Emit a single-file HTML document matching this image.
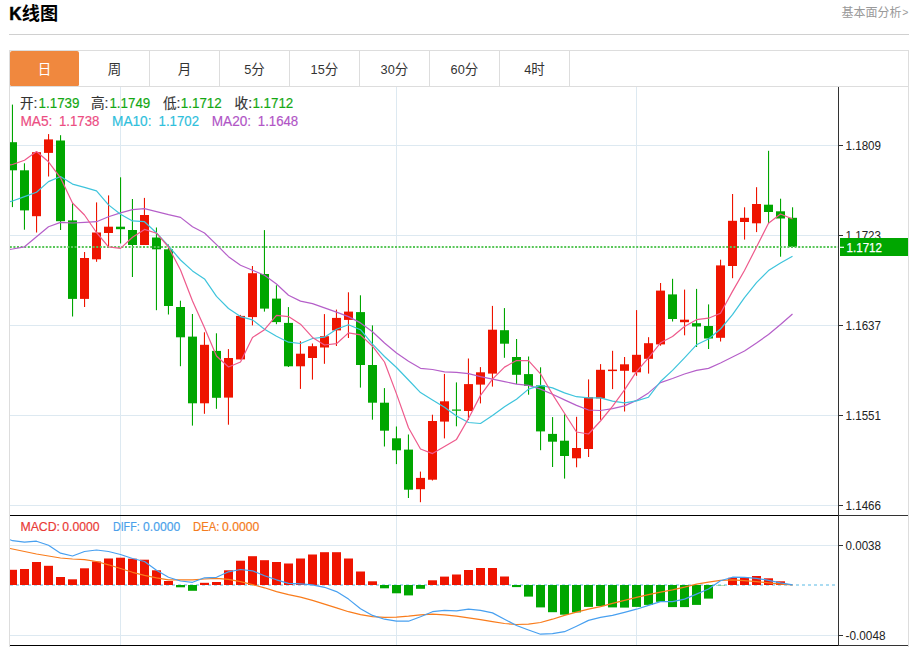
<!DOCTYPE html><html><head><meta charset="utf-8"><title>K</title><style>html,body{margin:0;padding:0;background:#fff;overflow:hidden}body{width:917px;height:647px;font-family:"Liberation Sans",sans-serif}</style></head><body><svg width="917" height="647" viewBox="0 0 917 647" style="display:block;font-family:'Liberation Sans','Noto Sans CJK SC',sans-serif">
<defs><clipPath id="cp"><rect x="10" y="87" width="828" height="558"/></clipPath></defs>
<rect width="917" height="647" fill="#fff"/>
<text transform="translate(9.2,19.7) scale(0.9,1)" font-size="19" font-weight="bold" fill="#000" stroke="#000" stroke-width="0.5">K</text>
<text x="21.8" y="20.4" font-size="18.2" font-weight="bold" fill="#000" font-family="'Liberation Sans','Noto Sans CJK SC',sans-serif">线图</text>
<text x="841.5" y="17.3" font-size="12" fill="#999" font-family="'Liberation Sans','Noto Sans CJK SC',sans-serif">基本面分析</text>
<text x="902.2" y="16.3" font-size="10.5" fill="#999">&gt;</text>
<rect x="9" y="34" width="900" height="1" fill="#d0d0d0"/>
<rect x="9.5" y="50.5" width="899" height="600" fill="none" stroke="#ddd"/>
<rect x="10" y="86" width="898" height="1" fill="#ddd"/>
<rect x="149" y="51" width="1" height="35" fill="#ddd"/>
<rect x="219" y="51" width="1" height="35" fill="#ddd"/>
<rect x="289" y="51" width="1" height="35" fill="#ddd"/>
<rect x="359" y="51" width="1" height="35" fill="#ddd"/>
<rect x="429" y="51" width="1" height="35" fill="#ddd"/>
<rect x="499" y="51" width="1" height="35" fill="#ddd"/>
<rect x="569" y="51" width="1" height="35" fill="#ddd"/>
<path d="M12,51 H77 Q79,51 79,53 V84.5 Q79,86 77.5,86 H11.5 Q10,86 10,84.5 V53 Q10,51 12,51 Z" fill="#f0883e"/>
<text x="37.75" y="74.4" font-size="13.5" fill="#fff" font-family="'Liberation Sans','Noto Sans CJK SC',sans-serif">日</text>
<text x="107.75" y="74.4" font-size="13.5" fill="#333" font-family="'Liberation Sans','Noto Sans CJK SC',sans-serif">周</text>
<text x="177.75" y="74.4" font-size="13.5" fill="#333" font-family="'Liberation Sans','Noto Sans CJK SC',sans-serif">月</text>
<text x="244.2" y="74.2" font-size="13.5" fill="#333" textLength="7.1" lengthAdjust="spacingAndGlyphs">5</text>
<text x="251.3" y="74.4" font-size="13.5" fill="#333" font-family="'Liberation Sans','Noto Sans CJK SC',sans-serif">分</text>
<text x="310.6" y="74.2" font-size="13.5" fill="#333" textLength="14.2" lengthAdjust="spacingAndGlyphs">15</text>
<text x="324.85" y="74.4" font-size="13.5" fill="#333" font-family="'Liberation Sans','Noto Sans CJK SC',sans-serif">分</text>
<text x="380.6" y="74.2" font-size="13.5" fill="#333" textLength="14.2" lengthAdjust="spacingAndGlyphs">30</text>
<text x="394.85" y="74.4" font-size="13.5" fill="#333" font-family="'Liberation Sans','Noto Sans CJK SC',sans-serif">分</text>
<text x="450.6" y="74.2" font-size="13.5" fill="#333" textLength="14.2" lengthAdjust="spacingAndGlyphs">60</text>
<text x="464.85" y="74.4" font-size="13.5" fill="#333" font-family="'Liberation Sans','Noto Sans CJK SC',sans-serif">分</text>
<text x="524.2" y="74.2" font-size="13.5" fill="#333" textLength="7.1" lengthAdjust="spacingAndGlyphs">4</text>
<text x="531.3" y="74.4" font-size="13.5" fill="#333" font-family="'Liberation Sans','Noto Sans CJK SC',sans-serif">时</text>
<rect x="10" y="145" width="828" height="1" fill="#dde9f1"/>
<rect x="10" y="235" width="828" height="1" fill="#dde9f1"/>
<rect x="10" y="325" width="828" height="1" fill="#dde9f1"/>
<rect x="10" y="415" width="828" height="1" fill="#dde9f1"/>
<rect x="10" y="505" width="828" height="1" fill="#dde9f1"/>
<rect x="10" y="545" width="828" height="1" fill="#dde9f1"/>
<rect x="10" y="635" width="828" height="1" fill="#dde9f1"/>
<rect x="120" y="87" width="1" height="558" fill="#dde9f1"/>
<rect x="396" y="87" width="1" height="558" fill="#dde9f1"/>
<rect x="636" y="87" width="1" height="558" fill="#dde9f1"/>
<line x1="10" y1="585" x2="836" y2="585" stroke="#abdcf2" stroke-width="2" stroke-dasharray="3,3"/>
<g clip-path="url(#cp)">
<rect x="8" y="569.8" width="9" height="15.2" fill="#ee1400"/>
<rect x="20" y="569" width="9" height="16" fill="#ee1400"/>
<rect x="32" y="562" width="9" height="23" fill="#ee1400"/>
<rect x="44" y="565.8" width="9" height="19.2" fill="#ee1400"/>
<rect x="56" y="577" width="9" height="8" fill="#ee1400"/>
<rect x="68" y="579.3" width="9" height="5.7" fill="#ee1400"/>
<rect x="80" y="568.3" width="9" height="16.7" fill="#ee1400"/>
<rect x="92" y="561.5" width="9" height="23.5" fill="#ee1400"/>
<rect x="104" y="558.5" width="9" height="26.5" fill="#ee1400"/>
<rect x="116" y="557.7" width="9" height="27.3" fill="#ee1400"/>
<rect x="128" y="558.7" width="9" height="26.3" fill="#ee1400"/>
<rect x="140" y="559.7" width="9" height="25.3" fill="#ee1400"/>
<rect x="152" y="570.3" width="9" height="14.7" fill="#ee1400"/>
<rect x="164" y="581" width="9" height="4" fill="#ee1400"/>
<rect x="176" y="585" width="9" height="2.3" fill="#00a600"/>
<rect x="188" y="585" width="9" height="5.8" fill="#00a600"/>
<rect x="200" y="582.8" width="9" height="2.2" fill="#ee1400"/>
<rect x="212" y="582" width="9" height="3" fill="#ee1400"/>
<rect x="224" y="570.3" width="9" height="14.7" fill="#ee1400"/>
<rect x="236" y="560.7" width="9" height="24.3" fill="#ee1400"/>
<rect x="248" y="556.2" width="9" height="28.8" fill="#ee1400"/>
<rect x="260" y="560.2" width="9" height="24.8" fill="#ee1400"/>
<rect x="272" y="562" width="9" height="23" fill="#ee1400"/>
<rect x="284" y="563.5" width="9" height="21.5" fill="#ee1400"/>
<rect x="296" y="558.5" width="9" height="26.5" fill="#ee1400"/>
<rect x="308" y="554.5" width="9" height="30.5" fill="#ee1400"/>
<rect x="320" y="552.2" width="9" height="32.8" fill="#ee1400"/>
<rect x="332" y="552.2" width="9" height="32.8" fill="#ee1400"/>
<rect x="344" y="558.5" width="9" height="26.5" fill="#ee1400"/>
<rect x="356" y="571.5" width="9" height="13.5" fill="#ee1400"/>
<rect x="368" y="581.3" width="9" height="3.7" fill="#ee1400"/>
<rect x="380" y="585" width="9" height="3.3" fill="#00a600"/>
<rect x="392" y="585" width="9" height="8.3" fill="#00a600"/>
<rect x="404" y="585" width="9" height="10.4" fill="#00a600"/>
<rect x="416" y="585" width="9" height="3.8" fill="#00a600"/>
<rect x="428" y="580.3" width="9" height="4.7" fill="#ee1400"/>
<rect x="440" y="576.6" width="9" height="8.4" fill="#ee1400"/>
<rect x="452" y="574.5" width="9" height="10.5" fill="#ee1400"/>
<rect x="464" y="570" width="9" height="15" fill="#ee1400"/>
<rect x="476" y="568" width="9" height="17" fill="#ee1400"/>
<rect x="488" y="568" width="9" height="17" fill="#ee1400"/>
<rect x="500" y="576.5" width="9" height="8.5" fill="#ee1400"/>
<rect x="512" y="585" width="9" height="2.1" fill="#00a600"/>
<rect x="524" y="585" width="9" height="11.6" fill="#00a600"/>
<rect x="536" y="585" width="9" height="22.4" fill="#00a600"/>
<rect x="548" y="585" width="9" height="27.2" fill="#00a600"/>
<rect x="560" y="585" width="9" height="29.7" fill="#00a600"/>
<rect x="572" y="585" width="9" height="27.4" fill="#00a600"/>
<rect x="584" y="585" width="9" height="21.9" fill="#00a600"/>
<rect x="596" y="585" width="9" height="21.1" fill="#00a600"/>
<rect x="608" y="585" width="9" height="22.4" fill="#00a600"/>
<rect x="620" y="585" width="9" height="22.6" fill="#00a600"/>
<rect x="632" y="585" width="9" height="21.9" fill="#00a600"/>
<rect x="644" y="585" width="9" height="19.9" fill="#00a600"/>
<rect x="656" y="585" width="9" height="16.8" fill="#00a600"/>
<rect x="668" y="585" width="9" height="22.1" fill="#00a600"/>
<rect x="680" y="585" width="9" height="22.1" fill="#00a600"/>
<rect x="692" y="585" width="9" height="19.9" fill="#00a600"/>
<rect x="704" y="585" width="9" height="13.6" fill="#00a600"/>
<rect x="716" y="585" width="9" height="0.3" fill="#00a600"/>
<rect x="728" y="577.8" width="9" height="7.2" fill="#ee1400"/>
<rect x="740" y="577.3" width="9" height="7.7" fill="#ee1400"/>
<rect x="752" y="576" width="9" height="9" fill="#ee1400"/>
<rect x="764" y="578.3" width="9" height="6.7" fill="#ee1400"/>
<rect x="776" y="581.3" width="9" height="3.7" fill="#ee1400"/>
<rect x="788" y="585" width="9" height="0" fill="#00a600"/>
<rect x="11.9" y="104.6" width="1.1" height="102.5" fill="#00a600"/>
<rect x="8" y="142.2" width="9" height="28.1" fill="#00a600"/>
<rect x="23.9" y="163.3" width="1.1" height="66.4" fill="#00a600"/>
<rect x="20" y="170.3" width="9" height="40.1" fill="#00a600"/>
<rect x="36" y="151.5" width="1.1" height="81" fill="#ee1400"/>
<rect x="32" y="152.2" width="9" height="64" fill="#ee1400"/>
<rect x="48" y="134.1" width="1.1" height="42.4" fill="#ee1400"/>
<rect x="44" y="139.4" width="9" height="13.5" fill="#ee1400"/>
<rect x="60" y="135.2" width="1.1" height="94.8" fill="#00a600"/>
<rect x="56" y="140.5" width="9" height="80.7" fill="#00a600"/>
<rect x="72" y="202.9" width="1.1" height="113.6" fill="#00a600"/>
<rect x="68" y="220.4" width="9" height="78.5" fill="#00a600"/>
<rect x="84" y="252" width="1.1" height="55" fill="#ee1400"/>
<rect x="80" y="258" width="9" height="40.9" fill="#ee1400"/>
<rect x="96" y="202.4" width="1.1" height="59.4" fill="#ee1400"/>
<rect x="92" y="232.5" width="9" height="26.8" fill="#ee1400"/>
<rect x="108" y="195.4" width="1.1" height="50.9" fill="#ee1400"/>
<rect x="104" y="226.7" width="9" height="6.3" fill="#ee1400"/>
<rect x="120" y="177.3" width="1.1" height="66.2" fill="#00a600"/>
<rect x="116" y="226.7" width="9" height="2.5" fill="#00a600"/>
<rect x="131.9" y="199" width="1.1" height="78" fill="#00a600"/>
<rect x="128" y="230" width="9" height="15" fill="#00a600"/>
<rect x="143.9" y="197.9" width="1.1" height="47.1" fill="#ee1400"/>
<rect x="140" y="215" width="9" height="30" fill="#ee1400"/>
<rect x="155.9" y="227.5" width="1.1" height="82.7" fill="#00a600"/>
<rect x="152" y="237.5" width="9" height="11.8" fill="#00a600"/>
<rect x="167.9" y="244.5" width="1.1" height="70" fill="#00a600"/>
<rect x="164" y="249.3" width="9" height="56.7" fill="#00a600"/>
<rect x="179.9" y="300.7" width="1.1" height="65.5" fill="#00a600"/>
<rect x="176" y="307" width="9" height="30.3" fill="#00a600"/>
<rect x="191.9" y="314" width="1.1" height="111.6" fill="#00a600"/>
<rect x="188" y="336.6" width="9" height="66.7" fill="#00a600"/>
<rect x="203.9" y="332.3" width="1.1" height="81.5" fill="#ee1400"/>
<rect x="200" y="344.8" width="9" height="58.5" fill="#ee1400"/>
<rect x="215.9" y="333.3" width="1.1" height="75.5" fill="#00a600"/>
<rect x="212" y="350.9" width="9" height="46.9" fill="#00a600"/>
<rect x="227.9" y="349.1" width="1.1" height="75.6" fill="#ee1400"/>
<rect x="224" y="358" width="9" height="39.6" fill="#ee1400"/>
<rect x="239.9" y="314.9" width="1.1" height="44.5" fill="#ee1400"/>
<rect x="236" y="315.9" width="9" height="43.5" fill="#ee1400"/>
<rect x="251.9" y="266" width="1.1" height="59.4" fill="#ee1400"/>
<rect x="248" y="273.2" width="9" height="43.9" fill="#ee1400"/>
<rect x="263.9" y="230.1" width="1.1" height="81.5" fill="#00a600"/>
<rect x="260" y="274" width="9" height="34.6" fill="#00a600"/>
<rect x="275.9" y="285.3" width="1.1" height="38.9" fill="#00a600"/>
<rect x="272" y="298.6" width="9" height="23.5" fill="#00a600"/>
<rect x="287.9" y="307.1" width="1.1" height="59.9" fill="#00a600"/>
<rect x="284" y="322.9" width="9" height="43.4" fill="#00a600"/>
<rect x="299.9" y="341.2" width="1.1" height="47.7" fill="#ee1400"/>
<rect x="296" y="353.7" width="9" height="12.6" fill="#ee1400"/>
<rect x="311.9" y="343.5" width="1.1" height="36.1" fill="#ee1400"/>
<rect x="308" y="346.2" width="9" height="11.8" fill="#ee1400"/>
<rect x="323.9" y="314.1" width="1.1" height="49.7" fill="#ee1400"/>
<rect x="320" y="336.2" width="9" height="11.3" fill="#ee1400"/>
<rect x="335.9" y="309.6" width="1.1" height="36.4" fill="#ee1400"/>
<rect x="332" y="317.9" width="9" height="12.5" fill="#ee1400"/>
<rect x="347.9" y="292.3" width="1.1" height="45.7" fill="#ee1400"/>
<rect x="344" y="311.6" width="9" height="8.3" fill="#ee1400"/>
<rect x="359.9" y="295.3" width="1.1" height="92.3" fill="#00a600"/>
<rect x="356" y="312.1" width="9" height="52.9" fill="#00a600"/>
<rect x="371.9" y="325.4" width="1.1" height="94.3" fill="#00a600"/>
<rect x="368" y="365" width="9" height="37.7" fill="#00a600"/>
<rect x="383.9" y="388.1" width="1.1" height="58.4" fill="#00a600"/>
<rect x="380" y="402.7" width="9" height="28" fill="#00a600"/>
<rect x="395.9" y="426.5" width="1.1" height="37.6" fill="#00a600"/>
<rect x="392" y="438.3" width="9" height="12" fill="#00a600"/>
<rect x="407.9" y="434.5" width="1.1" height="63.5" fill="#00a600"/>
<rect x="404" y="449.6" width="9" height="40.1" fill="#00a600"/>
<rect x="419.9" y="471.6" width="1.1" height="30.6" fill="#ee1400"/>
<rect x="416" y="477.9" width="9" height="11.3" fill="#ee1400"/>
<rect x="431.9" y="414.7" width="1.1" height="65.8" fill="#ee1400"/>
<rect x="428" y="421" width="9" height="58.7" fill="#ee1400"/>
<rect x="443.9" y="373.9" width="1.1" height="64.5" fill="#ee1400"/>
<rect x="440" y="401.3" width="9" height="20.3" fill="#ee1400"/>
<rect x="455.9" y="382.4" width="1.1" height="43.9" fill="#00a600"/>
<rect x="452" y="409.5" width="9" height="1.2" fill="#00a600"/>
<rect x="467.9" y="358.5" width="1.1" height="61.5" fill="#ee1400"/>
<rect x="464" y="384.1" width="9" height="26.9" fill="#ee1400"/>
<rect x="479.9" y="367.1" width="1.1" height="36.3" fill="#ee1400"/>
<rect x="476" y="372.3" width="9" height="12.3" fill="#ee1400"/>
<rect x="491.9" y="305.9" width="1.1" height="80.7" fill="#ee1400"/>
<rect x="488" y="329.7" width="9" height="43.9" fill="#ee1400"/>
<rect x="503.9" y="308.1" width="1.1" height="49.7" fill="#00a600"/>
<rect x="500" y="330.2" width="9" height="13.5" fill="#00a600"/>
<rect x="516" y="339" width="1.1" height="45.1" fill="#00a600"/>
<rect x="512" y="357" width="9" height="17.8" fill="#00a600"/>
<rect x="528" y="356.5" width="1.1" height="38.2" fill="#00a600"/>
<rect x="524" y="374.1" width="9" height="11.8" fill="#00a600"/>
<rect x="540" y="367.3" width="1.1" height="82.9" fill="#00a600"/>
<rect x="536" y="385.4" width="9" height="46" fill="#00a600"/>
<rect x="552" y="417.1" width="1.1" height="49.9" fill="#00a600"/>
<rect x="548" y="433.9" width="9" height="7.8" fill="#00a600"/>
<rect x="564" y="414.4" width="1.1" height="64.2" fill="#00a600"/>
<rect x="560" y="440.7" width="9" height="15.3" fill="#00a600"/>
<rect x="576" y="416.8" width="1.1" height="50.5" fill="#ee1400"/>
<rect x="572" y="448" width="9" height="10.3" fill="#ee1400"/>
<rect x="588" y="379.4" width="1.1" height="77.6" fill="#ee1400"/>
<rect x="584" y="397.1" width="9" height="51.9" fill="#ee1400"/>
<rect x="600" y="364.1" width="1.1" height="55.7" fill="#ee1400"/>
<rect x="596" y="369.8" width="9" height="28.6" fill="#ee1400"/>
<rect x="612" y="350.8" width="1.1" height="38.3" fill="#ee1400"/>
<rect x="608" y="369.6" width="9" height="1.5" fill="#ee1400"/>
<rect x="624" y="357" width="1.1" height="54.5" fill="#ee1400"/>
<rect x="620" y="364.3" width="9" height="6.5" fill="#ee1400"/>
<rect x="636" y="310.1" width="1.1" height="65.7" fill="#ee1400"/>
<rect x="632" y="354.8" width="9" height="17.5" fill="#ee1400"/>
<rect x="648" y="337.2" width="1.1" height="36.4" fill="#ee1400"/>
<rect x="644" y="343.2" width="9" height="15.6" fill="#ee1400"/>
<rect x="660" y="283" width="1.1" height="62.7" fill="#ee1400"/>
<rect x="656" y="290.6" width="9" height="53.8" fill="#ee1400"/>
<rect x="672" y="278.8" width="1.1" height="42.7" fill="#00a600"/>
<rect x="668" y="294.4" width="9" height="24.6" fill="#00a600"/>
<rect x="684" y="289.6" width="1.1" height="45.7" fill="#ee1400"/>
<rect x="680" y="319.7" width="9" height="2.5" fill="#ee1400"/>
<rect x="696" y="288.9" width="1.1" height="58.1" fill="#00a600"/>
<rect x="692" y="323.2" width="9" height="3.3" fill="#00a600"/>
<rect x="708" y="304.4" width="1.1" height="44.6" fill="#00a600"/>
<rect x="704" y="326" width="9" height="12.5" fill="#00a600"/>
<rect x="720" y="259.7" width="1.1" height="81.8" fill="#ee1400"/>
<rect x="716" y="265.4" width="9" height="72.4" fill="#ee1400"/>
<rect x="732" y="194" width="1.1" height="84.2" fill="#ee1400"/>
<rect x="728" y="220.8" width="9" height="45.2" fill="#ee1400"/>
<rect x="744" y="207.3" width="1.1" height="32.3" fill="#ee1400"/>
<rect x="740" y="217.8" width="9" height="4.2" fill="#ee1400"/>
<rect x="756" y="187.2" width="1.1" height="44.9" fill="#ee1400"/>
<rect x="752" y="204" width="9" height="19.3" fill="#ee1400"/>
<rect x="768" y="150.8" width="1.1" height="72.5" fill="#00a600"/>
<rect x="764" y="204.7" width="9" height="7.3" fill="#00a600"/>
<rect x="780" y="198.7" width="1.1" height="58" fill="#00a600"/>
<rect x="776" y="211.3" width="9" height="7.2" fill="#00a600"/>
<rect x="792" y="207.3" width="1.1" height="39.6" fill="#00a600"/>
<rect x="788" y="217.8" width="9" height="29.1" fill="#00a600"/>
<line x1="9.8" y1="247" x2="838" y2="247" stroke="#58c658" stroke-width="2" stroke-dasharray="2,1.6"/>
<polyline points="10,249.3 12.5,249 24.5,246.8 36.5,236.7 48.5,226.7 60.5,222.4 72.5,223 84.5,222.4 96.5,221.7 108.5,216.7 120.5,212.9 132.5,209.7 144.5,208.7 156.5,211.7 168.5,214.7 180.5,217.4 192.5,226.7 204.5,233 216.5,244.6 228.5,256.7 240.5,265.2 252.5,270.2 264.5,275.2 276.5,284 288.5,295.3 300.5,301.1 312.5,303.6 324.5,307.9 336.5,312.1 348.5,316.6 360.5,322.9 372.5,331.7 384.5,343 396.5,353 408.5,361.2 420.5,368.3 432.5,369.5 444.5,371.8 456.5,372.3 468.5,373.6 480.5,376.6 492.5,379.1 504.5,381.6 516.5,384.1 528.5,385.4 540.5,389.1 552.5,394.2 564.5,399.9 576.5,405.4 588.5,410 600.5,410.5 612.5,408.7 624.5,405.9 636.5,400.4 648.5,392.9 660.5,382.6 672.5,378.5 684.5,374 696.5,370.4 708.5,368.4 720.5,363 732.5,357 744.5,351 756.5,343 768.5,334.5 780.5,324.5 792.5,314" fill="none" stroke="#b55fc9" stroke-width="1.2" stroke-linejoin="round"/>
<polyline points="10,201.6 12.5,201 24.5,196.6 36.5,192.3 48.5,181.6 60.5,176.5 72.5,184.1 84.5,187.3 96.5,190.8 108.5,204.9 120.5,214.2 132.5,220.9 144.5,221.7 156.5,233 168.5,246 180.5,260 192.5,270.9 204.5,278.9 216.5,296.4 228.5,308.5 240.5,316.6 252.5,319.9 264.5,329.2 276.5,336.2 288.5,342.2 300.5,343.5 312.5,338.5 324.5,337.2 336.5,329.2 348.5,324.7 360.5,329.7 372.5,344.2 384.5,356.5 396.5,367.5 408.5,380 420.5,392.6 432.5,400 444.5,407.2 456.5,416 468.5,422.5 480.5,423.5 492.5,415.5 504.5,406.7 516.5,399.2 528.5,389.1 540.5,385.4 552.5,387.9 564.5,392.9 576.5,396.7 588.5,397.9 600.5,397.9 612.5,401.2 624.5,402.9 636.5,400.9 648.5,397.2 660.5,381.5 672.5,370.4 684.5,357.8 696.5,344.8 708.5,339 720.5,329 732.5,314.7 744.5,297.6 756.5,282.6 768.5,270.6 780.5,263 792.5,256.2" fill="none" stroke="#3ec4dc" stroke-width="1.2" stroke-linejoin="round"/>
<polyline points="10,164.8 12.5,164.5 24.5,160.2 36.5,151.5 48.5,161.8 60.5,177.8 72.5,203 84.5,215 96.5,232.5 108.5,246.8 120.5,248.4 132.5,237.3 144.5,229.4 156.5,233.2 168.5,247 180.5,270 192.5,301 204.5,327.8 216.5,356 228.5,367 240.5,362 252.5,337.4 264.5,329.7 276.5,315.4 288.5,316.6 300.5,324.2 312.5,337.4 324.5,345 336.5,343.7 348.5,332.9 360.5,334.9 372.5,346.2 384.5,362 396.5,393.9 408.5,427.7 420.5,449 432.5,453.6 444.5,446.5 456.5,439.4 468.5,418.5 480.5,395.4 492.5,379.1 504.5,367.1 516.5,360.5 528.5,360.6 540.5,373.8 552.5,394.4 564.5,413.3 576.5,432 588.5,434 600.5,421 612.5,406.4 624.5,389.9 636.5,371.6 648.5,357.8 660.5,342.8 672.5,336.5 684.5,326.5 696.5,319.7 708.5,318.2 720.5,313.2 732.5,291.4 744.5,270.5 756.5,247 768.5,223.3 780.5,214 792.5,219" fill="none" stroke="#ee5a8c" stroke-width="1.2" stroke-linejoin="round"/>
<polyline points="10,548.5 12.5,549 24.5,551.5 36.5,554 48.5,556 60.5,558 72.5,559 84.5,559.7 96.5,561.5 108.5,564.8 120.5,568.5 132.5,572.3 144.5,575.3 156.5,577.8 168.5,579.8 180.5,579.8 192.5,579.8 204.5,579 216.5,578.3 228.5,579.4 240.5,581.6 252.5,584.6 264.5,587.8 276.5,591.6 288.5,594.6 300.5,597.1 312.5,600.4 324.5,604.1 336.5,607.9 348.5,611.7 360.5,614.7 372.5,616.7 384.5,617.4 396.5,617.2 408.5,616.2 420.5,614.9 432.5,614.2 444.5,614.9 456.5,616.2 468.5,617.9 480.5,619.7 492.5,621.7 504.5,623.5 516.5,624.5 528.5,624.2 540.5,622.5 552.5,619.2 564.5,615.4 576.5,612.2 588.5,609.2 600.5,606.6 612.5,603.4 624.5,600.4 636.5,597.4 648.5,594.6 660.5,592.2 672.5,589.8 684.5,587.1 696.5,584.1 708.5,582.1 720.5,580.3 732.5,579.8 744.5,580.6 756.5,581.6 768.5,582.8 780.5,584.1 792.5,584.8" fill="none" stroke="#f97c1c" stroke-width="1.2" stroke-linejoin="round"/>
<polyline points="10,539.7 12.5,540.7 24.5,542.2 36.5,541.2 48.5,545.2 60.5,553.2 72.5,556 84.5,551.5 96.5,550 108.5,551.5 120.5,554.5 132.5,558.5 144.5,561.5 156.5,570.3 168.5,577.3 180.5,581 192.5,582.3 204.5,577.8 216.5,577.3 228.5,571.8 240.5,569.5 252.5,570.8 264.5,575.8 276.5,579.8 288.5,583.3 300.5,583.8 312.5,584.8 324.5,587.3 336.5,591.6 348.5,599.1 360.5,608.7 372.5,615.4 384.5,619.2 396.5,621.2 408.5,621.2 420.5,616.7 432.5,611.7 444.5,610.4 456.5,610.9 468.5,609.2 480.5,610.4 492.5,612.9 504.5,619.2 516.5,625.5 528.5,630 540.5,634.2 552.5,633.7 564.5,631.7 576.5,626.2 588.5,620.4 600.5,617.4 612.5,615.4 624.5,612.4 636.5,609.2 648.5,605.4 660.5,601.6 672.5,601.6 684.5,599.1 696.5,594.1 708.5,589 720.5,580.8 732.5,577.2 744.5,577.3 756.5,578.3 768.5,580.3 780.5,582.8 792.5,584.8" fill="none" stroke="#48a0f0" stroke-width="1.2" stroke-linejoin="round"/>
</g>
<rect x="838" y="87" width="1" height="559" fill="#333"/>
<rect x="10" y="515" width="828" height="1" fill="#000"/>
<rect x="838" y="515" width="70" height="1" fill="#333"/>
<rect x="10" y="645" width="828" height="1" fill="#000"/>
<rect x="838" y="645" width="70" height="1" fill="#333"/>
<rect x="839" y="145.0" width="4" height="1" fill="#333"/>
<text x="845.5" y="149.8" font-size="12" fill="#222" textLength="35.5" lengthAdjust="spacingAndGlyphs">1.1809</text>
<rect x="839" y="235.0" width="4" height="1" fill="#333"/>
<text x="845.5" y="239.8" font-size="12" fill="#222" textLength="35.5" lengthAdjust="spacingAndGlyphs">1.1723</text>
<rect x="839" y="325.0" width="4" height="1" fill="#333"/>
<text x="845.5" y="329.8" font-size="12" fill="#222" textLength="35.5" lengthAdjust="spacingAndGlyphs">1.1637</text>
<rect x="839" y="415.0" width="4" height="1" fill="#333"/>
<text x="845.5" y="419.8" font-size="12" fill="#222" textLength="35.5" lengthAdjust="spacingAndGlyphs">1.1551</text>
<rect x="839" y="505.0" width="4" height="1" fill="#333"/>
<text x="845.5" y="509.8" font-size="12" fill="#222" textLength="35.5" lengthAdjust="spacingAndGlyphs">1.1466</text>
<rect x="839" y="545.0" width="4" height="1" fill="#333"/>
<text x="845.5" y="549.8" font-size="12" fill="#222" textLength="35.5" lengthAdjust="spacingAndGlyphs">0.0038</text>
<rect x="839" y="635.0" width="4" height="1" fill="#333"/>
<text x="845.5" y="639.8" font-size="12" fill="#222" textLength="40" lengthAdjust="spacingAndGlyphs">-0.0048</text>
<rect x="840" y="238" width="68" height="18" fill="#00a600"/>
<rect x="840" y="246.7" width="4" height="1.2" fill="#fff"/>
<text x="846.6" y="251.8" font-size="12.3" fill="#fff" stroke="#fff" stroke-width="0.25" textLength="35.3" lengthAdjust="spacingAndGlyphs">1.1712</text>
<text x="19.9" y="107.8" font-size="13.6" fill="#333" stroke="#333" stroke-width="0.14" font-family="'Liberation Sans','Noto Sans CJK SC',sans-serif">开</text>
<text x="33.5" y="107.7" font-size="14" fill="#333" stroke="#333" stroke-width="0.18">:</text>
<text x="38.6" y="108" font-size="14" fill="#14a814" stroke="#14a814" stroke-width="0.18" textLength="40.9" lengthAdjust="spacingAndGlyphs">1.1739</text>
<text x="90.9" y="107.8" font-size="13.6" fill="#333" stroke="#333" stroke-width="0.14" font-family="'Liberation Sans','Noto Sans CJK SC',sans-serif">高</text>
<text x="104.5" y="107.7" font-size="14" fill="#333" stroke="#333" stroke-width="0.18">:</text>
<text x="109.4" y="108" font-size="14" fill="#14a814" stroke="#14a814" stroke-width="0.18" textLength="40.9" lengthAdjust="spacingAndGlyphs">1.1749</text>
<text x="162.9" y="107.8" font-size="13.6" fill="#333" stroke="#333" stroke-width="0.14" font-family="'Liberation Sans','Noto Sans CJK SC',sans-serif">低</text>
<text x="176.5" y="107.7" font-size="14" fill="#333" stroke="#333" stroke-width="0.18">:</text>
<text x="180.8" y="108" font-size="14" fill="#14a814" stroke="#14a814" stroke-width="0.18" textLength="40.9" lengthAdjust="spacingAndGlyphs">1.1712</text>
<text x="234.6" y="107.8" font-size="13.6" fill="#333" stroke="#333" stroke-width="0.14" font-family="'Liberation Sans','Noto Sans CJK SC',sans-serif">收</text>
<text x="248.2" y="107.7" font-size="14" fill="#333" stroke="#333" stroke-width="0.18">:</text>
<text x="252.4" y="108" font-size="14" fill="#14a814" stroke="#14a814" stroke-width="0.18" textLength="40.9" lengthAdjust="spacingAndGlyphs">1.1712</text>
<text x="20.4" y="125.8" font-size="14" fill="#ec4d82" stroke="#ec4d82" stroke-width="0.18" textLength="32" lengthAdjust="spacingAndGlyphs">MA5:</text>
<text x="59" y="125.8" font-size="14" fill="#ec4d82" stroke="#ec4d82" stroke-width="0.18" textLength="40.4" lengthAdjust="spacingAndGlyphs">1.1738</text>
<text x="112" y="125.8" font-size="14" fill="#2fc0dc" stroke="#2fc0dc" stroke-width="0.18" textLength="39.5" lengthAdjust="spacingAndGlyphs">MA10:</text>
<text x="158.6" y="125.8" font-size="14" fill="#2fc0dc" stroke="#2fc0dc" stroke-width="0.18" textLength="40.4" lengthAdjust="spacingAndGlyphs">1.1702</text>
<text x="211.8" y="125.8" font-size="14" fill="#b155c6" stroke="#b155c6" stroke-width="0.18" textLength="39.3" lengthAdjust="spacingAndGlyphs">MA20:</text>
<text x="257.8" y="125.8" font-size="14" fill="#b155c6" stroke="#b155c6" stroke-width="0.18" textLength="40.4" lengthAdjust="spacingAndGlyphs">1.1648</text>
<text x="20.4" y="530.8" font-size="12.8" fill="#e93a36" stroke="#e93a36" stroke-width="0.18" textLength="39.6" lengthAdjust="spacingAndGlyphs">MACD:</text>
<text x="62.2" y="530.8" font-size="12.8" fill="#e93a36" stroke="#e93a36" stroke-width="0.18" textLength="37.4" lengthAdjust="spacingAndGlyphs">0.0000</text>
<text x="112.9" y="530.8" font-size="12.8" fill="#4a9fea" stroke="#4a9fea" stroke-width="0.18" textLength="26.8" lengthAdjust="spacingAndGlyphs">DIFF:</text>
<text x="143" y="530.8" font-size="12.8" fill="#4a9fea" stroke="#4a9fea" stroke-width="0.18" textLength="37.2" lengthAdjust="spacingAndGlyphs">0.0000</text>
<text x="193.1" y="530.8" font-size="12.8" fill="#f47b20" stroke="#f47b20" stroke-width="0.18" textLength="26.4" lengthAdjust="spacingAndGlyphs">DEA:</text>
<text x="222" y="530.8" font-size="12.8" fill="#f47b20" stroke="#f47b20" stroke-width="0.18" textLength="37.4" lengthAdjust="spacingAndGlyphs">0.0000</text>
</svg></body></html>
